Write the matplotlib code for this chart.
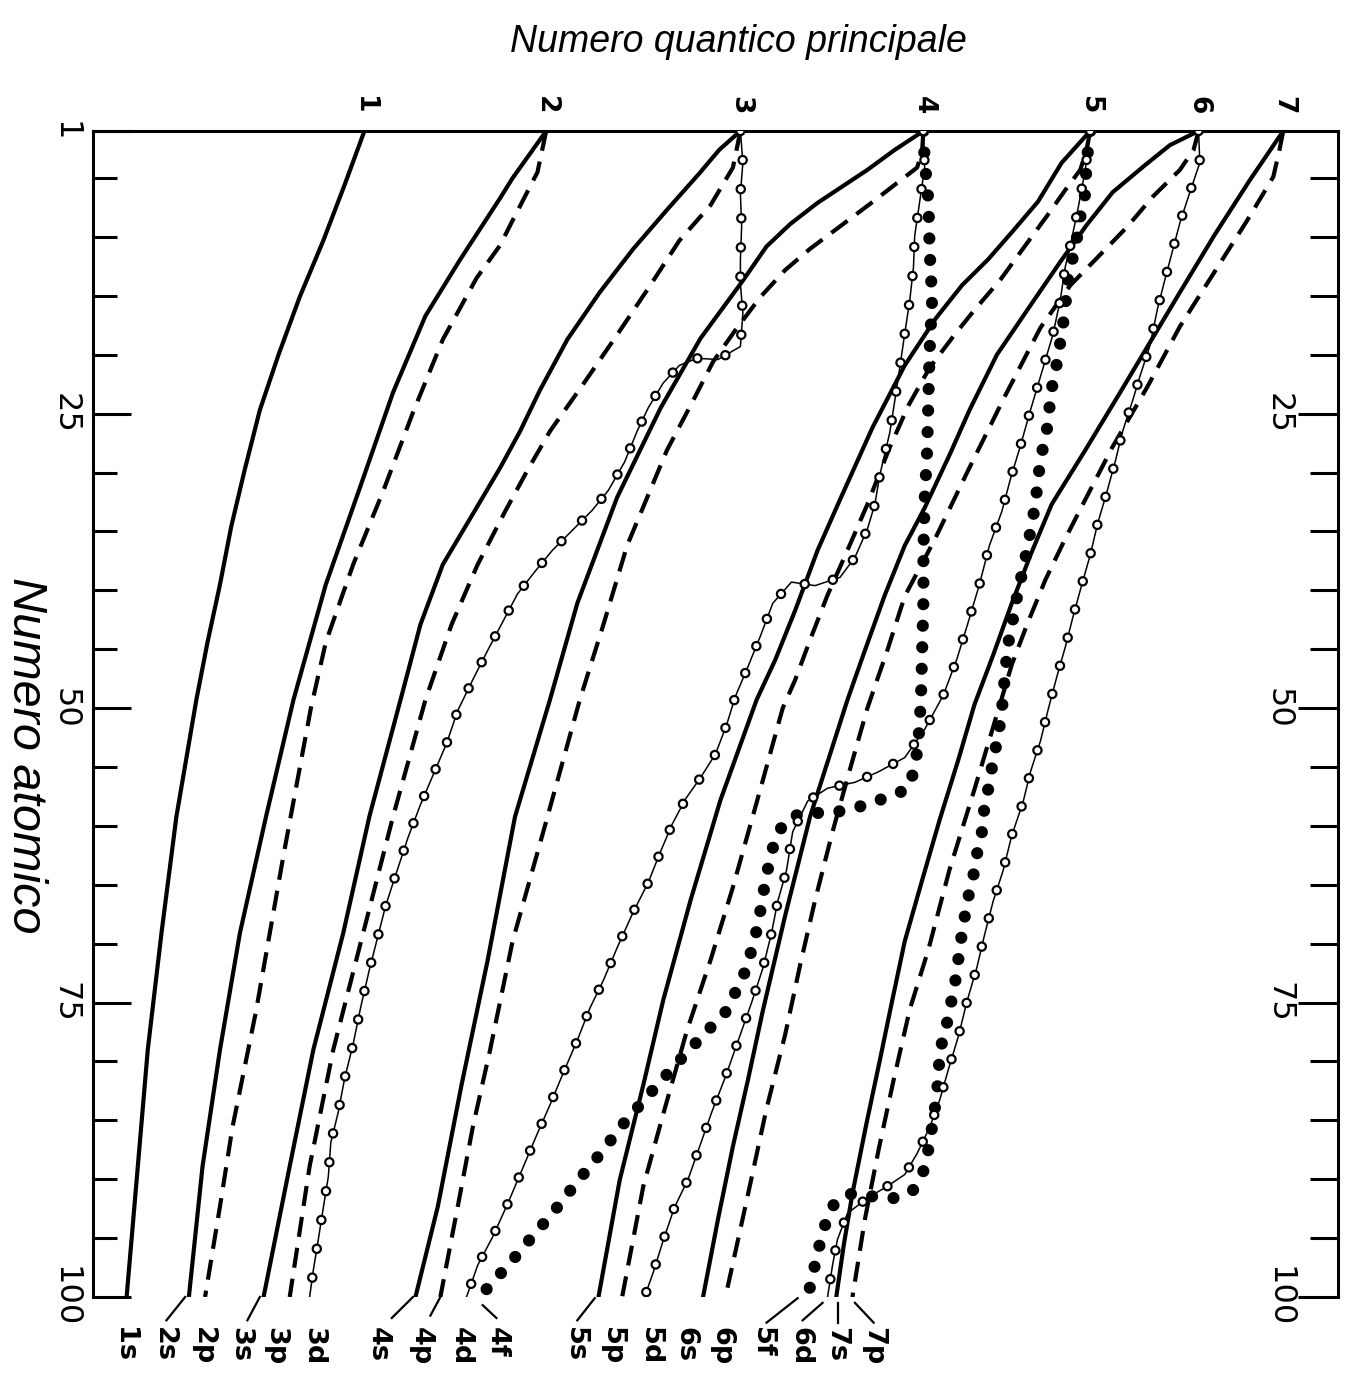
import matplotlib
matplotlib.use("Agg")
import matplotlib.pyplot as plt
import matplotlib.transforms as mtransforms
from matplotlib.ticker import FixedLocator

plt.rcParams['font.family'] = ['Liberation Sans', 'DejaVu Sans']
plt.rcParams['lines.scale_dashes'] = False

# ---------------------------------------------------------------------------
# Orbital energy levels (arbitrary energy units, 0 = deepest) vs atomic number
# ---------------------------------------------------------------------------
Z_1s = [1.0, 5.6, 10.3, 15.1, 20.0, 24.7, 29.7, 34.6, 39.5, 44.4, 49.3, 59.2, 69.1, 79.0, 88.9, 100]
E_1s = [21.8, 20.2, 18.5, 16.6, 14.9, 13.4, 12.2, 11.1, 10.2, 9.2, 8.3, 6.7, 5.5, 4.4, 3.6, 2.7]

Z_2s = [1.0, 5.0, 6.7, 11.9, 16.7, 23.2, 31.4, 39.5, 49.3, 59.2, 69.1, 79.0, 88.9, 100]
E_2s = [36.4, 33.7, 32.7, 29.5, 26.7, 24.1, 21.4, 18.7, 16.1, 13.9, 11.8, 10.2, 8.8, 7.7]

Z_2p = [1.0, 4.5, 8.6, 10.7, 13.5, 18.7, 24.9, 31.6, 37.8, 44.4, 50.0, 62.5, 75.7, 85.6, 92.3, 100]
E_2p = [36.4, 35.7, 33.7, 32.7, 30.8, 28.1, 25.7, 23.3, 20.9, 18.7, 17.5, 15.3, 13.1, 11.2, 10.2, 9.0]

Z_3s = [1.0, 2.6, 4.6, 7.7, 11.0, 14.7, 18.7, 23.0, 26.5, 29.6, 33.0, 37.8, 42.9, 49.3, 59.2, 69.1, 79.0, 88.9, 100]
E_3s = [52.0, 50.3, 48.7, 46.1, 43.4, 40.7, 38.1, 35.9, 34.3, 32.7, 30.8, 28.1, 26.3, 24.7, 22.2, 20.1, 17.7, 15.8, 13.7]

Z_3p = [1.0, 4.1, 7.3, 10.3, 14.2, 18.3, 22.3, 26.5, 29.8, 33.3, 37.8, 42.9, 49.3, 59.2, 69.1, 79.0, 88.9, 100]
E_3p = [52.0, 51.4, 49.6, 47.1, 44.7, 42.1, 39.5, 36.7, 34.9, 33.1, 30.9, 28.8, 26.7, 24.1, 21.7, 19.3, 17.4, 15.8]

Z_4s = [1.0, 2.6, 4.3, 5.7, 7.1, 8.9, 10.8, 13.7, 18.6, 24.5, 32.1, 41.1, 49.3, 59.2, 71.4, 82.0, 92.3, 100]
E_4s = [66.7, 64.4, 62.2, 60.2, 58.2, 56.0, 54.1, 52.2, 48.8, 45.6, 42.1, 38.9, 36.7, 33.9, 31.7, 29.6, 27.7, 25.9]

Z_4p = [1.0, 2.6, 4.1, 5.4, 7.2, 9.1, 11.0, 12.8, 15.1, 17.9, 20.6, 24.3, 28.1, 36.2, 42.9, 49.3, 60.0, 69.8,
        79.0, 85.6, 92.3, 100]
E_4p = [66.7, 66.6, 66.2, 64.6, 62.4, 60.0, 57.6, 55.6, 53.6, 51.6, 49.8, 48.0, 46.1, 42.9, 41.0, 39.1, 36.3, 33.7,
        31.9, 30.5, 29.3, 27.9]

Z_5s = [1.0, 3.7, 7.0, 9.6, 11.9, 14.1, 16.9, 20.9, 26.2, 32.3, 36.6, 41.7, 45.9, 49.3, 57.8, 66.3, 74.8, 82.0, 90.1, 100]
E_5s = [80.1, 77.8, 75.9, 73.8, 71.9, 69.8, 67.7, 65.2, 62.6, 60.0, 58.2, 56.4, 54.8, 53.3, 50.4, 48.0, 45.8, 44.2, 42.3, 40.6]

Z_5p = [1.0, 2.6, 4.3, 6.0, 8.1, 10.7, 13.6, 16.2, 18.3, 21.1, 24.3, 28.1, 32.7, 36.6, 40.4, 44.2, 47.6, 50.0,
        56.9, 65.2, 71.4, 77.4, 84.1, 90.6, 100]
E_5p = [80.1, 79.8, 79.3, 78.1, 76.7, 74.9, 72.9, 70.8, 69.2, 67.2, 65.5, 63.9, 62.2, 60.6, 59.0, 57.6, 56.4, 55.4,
        53.6, 51.4, 49.6, 47.7, 45.9, 44.2, 42.5]

Z_6s = [1.0, 2.2, 3.9, 6.2, 9.0, 12.1, 15.8, 20.0, 24.7, 28.5, 33.0, 36.2, 40.4, 45.1, 49.3, 59.2, 67.6, 75.7,
        81.6, 87.2, 93.4, 100]
E_6s = [88.8, 86.5, 84.5, 81.9, 79.8, 77.7, 75.3, 72.6, 70.4, 68.8, 66.8, 65.2, 63.6, 62.0, 60.6, 57.6, 55.6, 53.8,
        52.6, 51.4, 50.2, 49.0]

Z_6p = [1.0, 2.6, 4.3, 6.6, 9.1, 11.5, 14.1, 17.7, 23.4, 29.8, 35.7, 40.5, 45.1, 50.0, 55.2, 60.5, 66.3, 71.8,
        77.7, 84.0, 92.3, 100]
E_6p = [88.8, 88.4, 87.3, 85.1, 83.1, 80.9, 78.5, 76.1, 73.3, 70.3, 67.6, 65.2, 63.8, 62.2, 60.8, 59.4, 58.0, 56.8,
        55.6, 54.1, 52.4, 50.8]

Z_7s = [1.0, 5.2, 9.8, 14.7, 19.3, 23.2, 28.1, 32.7, 37.0, 41.1, 45.5, 49.7, 54.4, 59.5, 64.6, 69.8, 74.8, 79.9,
        85.4, 91.2, 95.6, 100]
E_7s = [95.6, 92.9, 90.1, 87.3, 84.7, 82.5, 79.7, 77.0, 75.3, 73.8, 72.3, 70.8, 69.5, 68.0, 66.6, 65.2, 64.2, 63.2,
        62.1, 61.0, 60.3, 59.7]

Z_7p = [1.0, 2.6, 4.9, 8.6, 13.1, 17.6, 22.7, 27.8, 32.3, 35.6, 39.1, 42.7, 46.3, 50.2, 56.9, 63.7, 70.5, 75.6,
        81.6, 87.5, 93.4, 100]
E_7p = [95.6, 95.3, 94.8, 92.7, 90.0, 87.3, 84.7, 81.9, 79.7, 78.1, 76.5, 75.1, 73.8, 72.7, 70.8, 68.8, 67.1, 65.6,
        64.3, 63.1, 62.0, 61.0]

Z_3d = [1.0, 3.7, 6.3, 9.1, 11.9, 14.0, 16.5, 19.3, 20.4, 20.3, 20.9, 22.4, 24.5,
        26.5, 29.1, 31.5, 33.2, 34.8, 36.6, 38.4, 40.3, 42.7, 45.1, 47.6, 50.2,
        53.0, 58.2, 61.0, 64.2, 66.8, 69.3, 72.2, 75.4, 78.5, 81.5, 84.3, 86.9,
        89.8, 92.4, 95.1, 97.7, 100.0]
E_3d = [52.0, 52.2, 52.0, 52.1, 52.0, 52.0, 52.2, 52.0, 50.2, 48.5, 47.1, 45.8, 44.6,
        43.7, 42.7, 41.4, 40.1, 38.6, 36.9, 35.5, 34.1, 32.9, 31.7, 30.5, 29.3,
        28.4, 26.3, 25.3, 24.3, 23.5, 22.9, 22.2, 21.5, 20.9, 20.2, 19.7, 19.1,
        18.9, 18.5, 18.1, 17.7, 17.4]

Z_4d = [1.0, 4.1, 7.0, 9.9, 12.6, 15.4, 18.2, 21.1, 23.9, 26.6, 30.2, 32.7, 34.8,
        37.2, 38.9, 39.6, 39.3, 41.1, 43.9, 46.5, 49.0, 51.4, 53.9, 55.9, 57.7,
        59.9, 62.4, 64.8, 67.3, 70.1, 73.1, 75.5, 78.2, 80.9, 83.7, 86.1, 89.1,
        92.1, 94.9, 97.3, 100.0]
E_4d = [66.7, 66.8, 66.4, 66.0, 65.9, 65.6, 65.2, 64.8, 64.4, 64.0, 63.2, 62.8, 62.2,
        61.2, 60.0, 58.0, 56.1, 54.6, 53.6, 52.6, 51.6, 50.9, 50.0, 48.8, 47.6,
        46.5, 45.5, 44.6, 43.4, 42.2, 41.0, 39.9, 38.9, 37.8, 36.7, 35.7, 34.5,
        33.3, 32.1, 30.9, 30.0]

Z_5d = [1.0, 4.3, 7.7, 10.7, 12.5, 15.3, 18.3, 21.5, 24.7, 27.7, 30.5, 33.3, 36.2,
        39.5, 42.7, 45.8, 48.9, 51.8, 54.2, 55.4, 56.3, 56.8, 57.9, 60.5, 63.8,
        66.4, 69.1, 72.1, 75.0, 78.3, 81.3, 84.3, 87.0, 90.0, 92.4, 95.2, 97.9, 100.0]
E_5d = [80.1, 79.7, 79.1, 78.5, 78.1, 77.7, 77.1, 76.2, 75.3, 74.5, 73.7, 73.0, 72.0,
        71.2, 70.3, 69.4, 68.3, 66.8, 65.2, 63.1, 61.2, 59.0, 57.4, 56.2, 55.7,
        55.0, 54.5, 53.8, 52.9, 51.8, 50.8, 49.7, 48.8, 47.8, 46.7, 45.8, 45.0, 44.3]

Z_6d = [1.0, 3.7, 6.2, 8.8, 11.2, 13.6, 16.1, 19.2, 21.8, 23.9, 26.5, 29.1, 31.8,
        34.3, 37.0, 39.6, 42.3, 44.8, 47.4, 50.2, 52.8, 55.4, 58.0, 60.8, 63.8,
        66.4, 69.3, 72.0, 74.9, 77.9, 80.7, 83.3, 85.6, 87.8, 89.6, 90.6, 91.6,
        92.9, 95.1, 97.3, 100.0]
E_6d = [88.8, 88.9, 88.1, 87.3, 86.7, 86.1, 85.5, 84.9, 84.1, 83.5, 82.7, 82.1, 81.4,
        80.7, 80.1, 79.4, 78.7, 78.1, 77.4, 76.7, 76.1, 75.3, 74.7, 73.8, 73.1,
        72.3, 71.6, 71.0, 70.2, 69.5, 68.7, 68.0, 67.2, 66.2, 65.2, 63.8, 62.2,
        60.6, 59.8, 59.4, 59.0]

Z_4f = [1.0, 3.5, 6.9, 11.1, 15.3, 19.6, 23.8, 28.1, 32.3, 36.6, 40.8, 45.1, 49.3,
        52.8, 55.2, 56.9, 58.2, 58.9, 58.9, 59.2, 60.7, 62.7, 64.7, 68.5, 72.1,
        75.7, 78.0, 80.5, 83.0, 85.3, 87.9, 90.2, 92.9, 95.1, 97.5, 98.7, 100.0]
E_4f = [66.7, 66.8, 67.1, 67.2, 67.4, 67.2, 67.1, 67.0, 66.8, 66.7, 66.7, 66.6, 66.5,
        66.3, 66.0, 65.4, 62.2, 59.4, 57.6, 56.0, 54.9, 54.4, 54.0, 53.4, 52.5,
        50.9, 48.8, 46.6, 44.5, 42.6, 40.7, 38.9, 36.9, 35.1, 33.2, 32.1, 31.1]

Z_5f = [1.0, 3.7, 6.3, 8.3, 10.3, 12.2, 14.2, 16.1, 18.2, 20.3, 22.9, 26.5, 28.4,
        30.5, 32.7, 34.3, 36.2, 38.2, 40.1, 42.4, 44.6, 46.6, 50.2, 52.4, 54.4,
        56.4, 58.4, 60.5, 62.4, 64.3, 66.5, 68.5, 70.4, 72.4, 74.6, 76.7, 78.3,
        80.7, 82.7, 84.8, 87.0, 89.3, 90.9, 91.6, 91.6, 91.2, 91.9, 93.9, 96.2,
        98.2, 100.0]
E_5f = [80.1, 79.8, 79.7, 79.3, 79.0, 78.6, 78.2, 78.1, 77.8, 77.5, 77.0, 76.6, 76.2,
        75.9, 75.7, 75.4, 75.1, 74.7, 74.3, 73.9, 73.5, 73.3, 73.0, 72.7, 72.3,
        72.0, 71.6, 71.4, 71.0, 70.7, 70.2, 69.9, 69.6, 69.4, 69.0, 68.6, 68.2,
        67.9, 67.8, 67.5, 67.2, 66.7, 65.9, 64.6, 63.5, 61.0, 59.6, 58.8, 58.2,
        57.8, 57.4]

# Principal quantum number positions along the energy axis
N_LABELS = ['1', '2', '3', '4', '5', '6', '7']
N_POS = [21.8, 36.4, 52.0, 66.7, 80.1, 88.8, 95.6]

ORBITALS = [
    ('1s', 's', Z_1s, E_1s), ('2s', 's', Z_2s, E_2s), ('2p', 'p', Z_2p, E_2p),
    ('3s', 's', Z_3s, E_3s), ('3p', 'p', Z_3p, E_3p), ('3d', 'd', Z_3d, E_3d),
    ('4s', 's', Z_4s, E_4s), ('4p', 'p', Z_4p, E_4p), ('4d', 'd', Z_4d, E_4d),
    ('4f', 'f', Z_4f, E_4f), ('5s', 's', Z_5s, E_5s), ('5p', 'p', Z_5p, E_5p),
    ('5d', 'd', Z_5d, E_5d), ('6s', 's', Z_6s, E_6s), ('6p', 'p', Z_6p, E_6p),
    ('5f', 'f', Z_5f, E_5f), ('6d', 'd', Z_6d, E_6d), ('7s', 's', Z_7s, E_7s),
    ('7p', 'p', Z_7p, E_7p),
]

# Bottom label placement (energy units) and leader lines
LABEL_X = {'1s': 2.5, '2s': 5.7, '2p': 8.8, '3s': 11.8, '3p': 14.6, '3d': 17.7,
           '4s': 22.9, '4p': 26.3, '4d': 29.5, '4f': 32.4, '5s': 38.7, '5p': 41.7,
           '5d': 44.7, '6s': 47.6, '6p': 50.5, '5f': 53.7, '6d': 56.8, '7s': 59.7,
           '7p': 62.7}
LEADERS = [(7.4, 0.0, 5.9, -0.020), (13.4, 0.0, 12.4, -0.020),
           (25.7, 0.0, 24.0, -0.018), (27.9, 0.0, 27.1, -0.016),
           (31.3, -0.007, 32.4, -0.018), (40.3, -0.001, 38.9, -0.020),
           (56.6, -0.001, 54.1, -0.022), (58.6, -0.005, 57.0, -0.020),
           (59.8, -0.005, 59.8, -0.022), (61.2, -0.005, 62.7, -0.022)]

DOT = (0, (0.001, 15.5))     # f levels: filled dots
RING = (0, (0.001, 21.0))    # d levels: open rings

fig = plt.figure(figsize=(13.47, 13.88), dpi=100)
ax = fig.add_axes([93 / 1347, 1 - 1297 / 1388, 1245 / 1347, 1166 / 1388])
ax.set_xlim(0, 100)
ax.set_ylim(100, 1)

for name, kind, zs, es in ORBITALS:
    if kind == 's':
        ax.plot(es, zs, color='k', lw=3.0, solid_capstyle='round',
                solid_joinstyle='round', zorder=3)
    elif kind == 'p':
        ax.plot(es, zs, color='k', lw=3.0, ls=(0, (14.5, 8.0)),
                dash_capstyle='butt', dash_joinstyle='round', zorder=3)
    elif kind == 'f':
        ax.plot(es, zs, color='k', lw=8.8, ls=DOT, dash_capstyle='round', zorder=4)
    else:
        ax.plot(es, zs, color='k', lw=1.1, solid_joinstyle='round', zorder=5)
        ax.plot(es, zs, color='k', lw=7.6, ls=RING, dash_capstyle='round', zorder=6)
        ax.plot(es, zs, color='white', lw=4.4, ls=RING, dash_capstyle='round', zorder=7)

# frame
for side in ('top', 'left', 'right'):
    ax.spines[side].set_linewidth(2.2)
ax.spines['bottom'].set_visible(False)

# principal quantum numbers along the top
ax.xaxis.set_ticks_position('top')
ax.set_xticks(N_POS, N_LABELS)
ax.tick_params(axis='x', length=0, pad=12, labelsize=19, labelrotation=-90)
for lab in ax.get_xticklabels():
    lab.set_fontfamily('DejaVu Sans')
    lab.set_fontweight('bold')

# atomic number scale, left
minor = [z for z in range(5, 100, 5) if z % 25 != 0]
ax.yaxis.set_major_locator(FixedLocator([1, 25, 50, 75, 100]))
ax.set_yticklabels(['1', '25', '50', '75', '100'])
ax.yaxis.set_minor_locator(FixedLocator(minor))
ax.tick_params(axis='y', which='major', direction='in', length=27, width=2.2,
               labelsize=23, pad=9, labelrotation=-90)
ax.tick_params(axis='y', which='minor', direction='in', length=17.5, width=2.2)
for lab in ax.get_yticklabels():
    lab.set_va('center')
    lab.set_fontfamily('DejaVu Sans')

# atomic number scale, right (labels inside the frame)
ax2 = ax.twinx()
ax2.set_ylim(100, 1)
for s in ax2.spines.values():
    s.set_visible(False)
ax2.yaxis.set_major_locator(FixedLocator([25, 50, 75, 100]))
ax2.set_yticklabels(['25', '50', '75', '100'])
ax2.yaxis.set_minor_locator(FixedLocator(minor))
ax2.tick_params(axis='y', which='major', direction='in', length=29, width=2.2,
                labelsize=23, pad=-54, labelrotation=-90)
ax2.tick_params(axis='y', which='minor', direction='in', length=20, width=2.2)
for lab in ax2.get_yticklabels():
    lab.set_va('center')
    lab.set_fontfamily('DejaVu Sans')

# orbital labels under the curve ends
trans = mtransforms.blended_transform_factory(ax.transData, ax.transAxes)
for name, kind, zs, es in ORBITALS:
    ax.text(LABEL_X[name], -0.026, name, transform=trans, rotation=-90,
            ha='center', va='top', fontsize=19.5, fontweight='bold',
            family='DejaVu Sans')
for x0, y0, x1, y1 in LEADERS:
    ax.plot([x0, x1], [y0, y1], transform=trans, color='k', lw=1.6,
            clip_on=False)

fig.text(738 / 1347, 1 - 42 / 1388, 'Numero quantico principale',
         ha='center', va='center', fontsize=27, style='italic')
fig.text(25 / 1347, 1 - 755 / 1388, 'Numero atomico', ha='center', va='center',
         rotation=-90, fontsize=35, style='italic')

fig.savefig('out.png', dpi=100, facecolor='white')
